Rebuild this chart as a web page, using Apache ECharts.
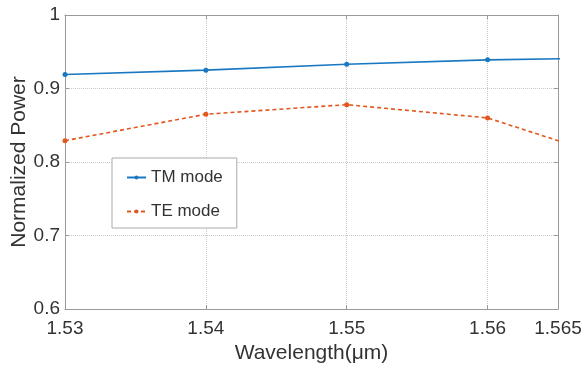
<!DOCTYPE html>
<html>
<head>
<meta charset="utf-8">
<script src="https://cdn.jsdelivr.net/npm/echarts@6/dist/echarts.min.js"></script>
<style>
html,body{margin:0;padding:0;background:#fff;}
#c{width:584px;height:371px;}
</style>
</head>
<body>
<div id="c"></div>
<script>
var wavelengths = [1.53, 1.54, 1.55, 1.56, 1.57];
var tmMode = [0.919, 0.925, 0.933, 0.939, 0.942];
var teMode = [0.829, 0.865, 0.878, 0.860, 0.798];
var xTickLabels = [1.53, 1.54, 1.55, 1.56, 1.565];
var seriesNames = ['TM mode', 'TE mode'];

function pairs(xs, ys) { return xs.map(function (x, i) { return [x, ys[i]]; }); }

var font = '"Liberation Sans", Arial, sans-serif';
var textColor = '#333';
var axisGray = '#9a9a9a';

var chart = echarts.init(document.getElementById('c'), null, {renderer: 'canvas'});
chart.setOption({
  animation: false,
  backgroundColor: '#fff',
  textStyle: {fontFamily: font},
  grid: {left: 65, top: 15, right: 26, bottom: 62, containLabel: false, outerBoundsMode: 'none'},
  legend: {
    orient: 'vertical',
    left: 112, top: 158,
    data: seriesNames,
    backgroundColor: '#fff',
    borderColor: '#aaa', borderWidth: 1,
    padding: [11, 14, 8, 14],
    itemGap: 17,
    itemWidth: 19, itemHeight: 5,
    textStyle: {fontSize: 17, color: textColor, fontFamily: font}
  },
  xAxis: [{
    type: 'value', min: 1.53, max: 1.565, interval: 0.01,
    name: 'Wavelength(\u03bcm)', nameLocation: 'middle', nameGap: 34, nameMoveOverlap: false,
    nameTextStyle: {fontSize: 21, color: textColor, fontFamily: font},
    axisLine: {show: true, lineStyle: {color: axisGray}},
    axisTick: {show: true, inside: true, length: 4, lineStyle: {color: axisGray}, customValues: xTickLabels},
    axisLabel: {fontSize: 19, color: textColor, margin: 10, customValues: xTickLabels,
      formatter: function (v) { return String(+v.toFixed(3)); }},
    splitLine: {show: true, lineStyle: {color: '#c8c8c8', type: [1, 1], width: 1}}
  }, {
    type: 'value', min: 1.53, max: 1.565, interval: 0.01, position: 'top',
    axisLine: {show: true, lineStyle: {color: axisGray}},
    axisTick: {show: true, inside: true, length: 4, lineStyle: {color: axisGray}, customValues: xTickLabels},
    axisLabel: {show: false}, splitLine: {show: false}
  }],
  yAxis: [{
    type: 'value', min: 0.6, max: 1, interval: 0.1,
    name: 'Normalized Power', nameLocation: 'middle', nameGap: 35, nameMoveOverlap: false,
    nameTextStyle: {fontSize: 21, color: textColor, fontFamily: font},
    axisLine: {show: true, lineStyle: {color: axisGray}},
    axisTick: {show: true, inside: true, length: 4, lineStyle: {color: axisGray}},
    axisLabel: {fontSize: 19, color: textColor, margin: 5,
      formatter: function (v) { return String(+v.toFixed(1)); }},
    splitLine: {show: true, lineStyle: {color: '#c8c8c8', type: [1, 1], width: 1}}
  }, {
    type: 'value', min: 0.6, max: 1, interval: 0.1, position: 'right',
    axisLine: {show: true, lineStyle: {color: axisGray}},
    axisTick: {show: true, inside: true, length: 4, lineStyle: {color: axisGray}},
    axisLabel: {show: false}, splitLine: {show: false}
  }],
  series: [{
    name: seriesNames[0], type: 'line', data: pairs(wavelengths, tmMode),
    clip: true, symbol: 'circle', symbolSize: 5, showAllSymbol: true,
    lineStyle: {color: '#1a78c2', width: 1.6},
    itemStyle: {color: '#1a78c2'}
  }, {
    name: seriesNames[1], type: 'line', data: pairs(wavelengths, teMode),
    clip: true, symbol: 'circle', symbolSize: 5, showAllSymbol: true,
    lineStyle: {color: '#e2571e', width: 1.6, type: [4, 3]},
    itemStyle: {color: '#e2571e'}
  }]
});
</script>
</body>
</html>
